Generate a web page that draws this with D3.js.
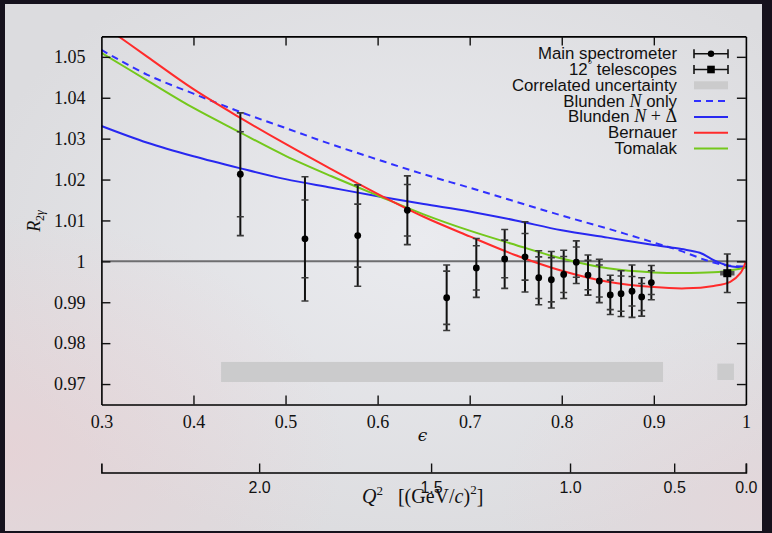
<!DOCTYPE html>
<html><head><meta charset="utf-8">
<script src="https://cdn.jsdelivr.net/npm/d3@7"></script>
<style>
html,body{margin:0;padding:0;background:#15121c;}
svg{display:block;}
</style></head><body>
<svg id="chart" width="772" height="533"></svg>
<script>
// ---- measured two-photon-exchange ratio, main spectrometer ----
const epsMain   = [0.4509, 0.5211, 0.5784, 0.6323, 0.6750, 0.7072, 0.7380, 0.7601, 0.7750, 0.7887,
                   0.8021, 0.8158, 0.8285, 0.8408, 0.8527, 0.8644, 0.8763, 0.8868, 0.8973];
const ratioMain = [1.0213, 1.0055, 1.0063, 1.0125, 0.9911, 0.9984, 1.0006, 1.0011, 0.9960, 0.9955,
                   0.9968, 0.9998, 0.99665, 0.9952, 0.9918, 0.9921, 0.9927, 0.9913, 0.9948];
const statErrMain = [0.0104, 0.0095, 0.0077, 0.0063, 0.0065, 0.0054, 0.0046, 0.0057, 0.0051, 0.0054,
                     0.0044, 0.0037, 0.0036, 0.0039, 0.0036, 0.0043, 0.0036, 0.0033, 0.0029];
const totErrMain  = [0.0150, 0.0152, 0.0124, 0.0084, 0.0080, 0.0072, 0.0072, 0.0086, 0.0066, 0.0069,
                     0.0059, 0.0052, 0.0049, 0.0053, 0.0048, 0.0056, 0.0064, 0.0047, 0.0042];

// ---- 12 degree telescopes ----
const epsTele    = [0.9798];
const ratioTele  = [0.9971];
const totErrTele = [0.0047];
const epsErrTele = [0.0078];

// ---- correlated systematic uncertainty bands ----
const corrEpsLo = [0.430, 0.969];
const corrEpsHi = [0.910, 0.987];
const corrLo    = [0.9705, 0.9710];
const corrHi    = [0.9754, 0.9750];

// ---- theory curves ----
const bernauerEps = [0.30, 0.35, 0.40, 0.45, 0.50, 0.55, 0.60, 0.65, 0.70, 0.75, 0.80, 0.85, 0.90, 0.935, 0.965, 0.983, 0.994, 1.00];
const bernauerR   = [1.0580, 1.0500, 1.0421, 1.0352, 1.0287, 1.0225, 1.0165, 1.0109, 1.0061, 1.0015, 0.9977, 0.9950, 0.9937, 0.9934, 0.9940, 0.9950, 0.9971, 1.0000];

const tomalakEps = [0.30, 0.35, 0.40, 0.45, 0.50, 0.55, 0.60, 0.65, 0.70, 0.75, 0.80, 0.85, 0.90, 0.95, 0.975, 1.00];
const tomalakR   = [1.0510, 1.0442, 1.0375, 1.0316, 1.0258, 1.0208, 1.0161, 1.0115, 1.0075, 1.0040, 1.0007, 0.9983, 0.9973, 0.9972, 0.9975, 0.9985];

const blundenNDEps = [0.30, 0.35, 0.40, 0.45, 0.50, 0.55, 0.60, 0.65, 0.70, 0.75, 0.80, 0.85, 0.90, 0.93, 0.95, 0.965, 0.98, 0.99, 1.00];
const blundenNDR   = [1.0331, 1.0290, 1.0257, 1.0228, 1.0201, 1.0180, 1.0159, 1.0140, 1.0122, 1.0100, 1.0076, 1.0058, 1.0040, 1.0030, 1.0021, 1.0003, 0.9990, 0.9986, 0.9987];

const blundenNEps = [0.30, 0.35, 0.40, 0.45, 0.50, 0.55, 0.60, 0.65, 0.70, 0.75, 0.80, 0.85, 0.90, 0.93, 0.955, 0.97, 0.98, 1.00];
const blundenNR   = [1.0517, 1.0456, 1.0410, 1.0366, 1.0326, 1.0286, 1.0249, 1.0213, 1.0180, 1.0146, 1.0112, 1.0080, 1.0046, 1.0025, 1.0004, 0.9994, 0.9990, 0.9987];

// ---- axes ----
const epsTicks   = [0.3, 0.4, 0.5, 0.6, 0.7, 0.8, 0.9, 1.0];
const ratioTicks = [0.97, 0.98, 0.99, 1.00, 1.01, 1.02, 1.03, 1.04, 1.05];
const q2Ticks    = [0.0, 0.5, 1.0, 1.5, 2.0];
const beamEnergy = 2.01;     // GeV
const protonMass = 0.938272; // GeV

const seriesColors = {blundenN: "#3030ff", blundenND: "#2828f0", bernauer: "#ff2b2b", tomalak: "#74c81c"};

// ---------------------------------------------------------------
const svg = d3.select("#chart");
const W = 772, H = 533;
const L = 101.4, R = 745.9, T = 36.4, B = 404.5;

const defs = svg.append("defs");
const pink = defs.append("radialGradient").attr("id", "pinkGlow").attr("cx", "0%").attr("cy", "85%").attr("r", "45%");
pink.append("stop").attr("offset", "0%").attr("stop-color", "#f0c8cc").attr("stop-opacity", 0.45);
pink.append("stop").attr("offset", "100%").attr("stop-color", "#f0c8cc").attr("stop-opacity", 0);
const pink2 = defs.append("radialGradient").attr("id", "pinkGlow2").attr("cx", "100%").attr("cy", "95%").attr("r", "35%");
pink2.append("stop").attr("offset", "0%").attr("stop-color", "#efcdd2").attr("stop-opacity", 0.35);
pink2.append("stop").attr("offset", "100%").attr("stop-color", "#efcdd2").attr("stop-opacity", 0);
const haze = defs.append("radialGradient").attr("id", "haze").attr("cx", "55%").attr("cy", "45%").attr("r", "60%");
haze.append("stop").attr("offset", "0%").attr("stop-color", "#eaebef");
haze.append("stop").attr("offset", "100%").attr("stop-color", "#dcdcdf");
defs.append("clipPath").attr("id", "plotClip").append("rect")
  .attr("x", L).attr("y", T).attr("width", R - L).attr("height", B - T);

// dark surround and light panel
svg.append("rect").attr("width", W).attr("height", H).attr("fill", "#16121d");
["url(#haze)", "url(#pinkGlow)", "url(#pinkGlow2)"].forEach(f =>
  svg.append("rect").attr("x", 5).attr("y", 4).attr("width", 757).attr("height", 527).attr("fill", f));

const x = d3.scaleLinear().domain([0.3, 1.0]).range([L, R]);
const y = d3.scaleLinear().domain([0.965, 1.055]).range([B, T]);

// epsilon for a given Q^2 at fixed beam energy (elastic e-p kinematics)
function epsFromQ2(q2) {
  if (q2 <= 0) return 1;
  const s = q2 / (4 * beamEnergy * beamEnergy - 2 * beamEnergy * q2 / protonMass);
  const tau = q2 / (4 * protonMass * protonMass);
  const tan2 = s / (1 - s);
  return 1 / (1 + 2 * (1 + tau) * tan2);
}
// Q^2 at the left edge of the plot (epsilon = 0.3)
let qa = 0, qb = 3.5;
for (let i = 0; i < 60; i++) { const m = (qa + qb) / 2; if (epsFromQ2(m) > 0.3) qa = m; else qb = m; }
const q2Max = (qa + qb) / 2;
const q2Nodes = d3.range(0, q2Max, 0.02).concat([q2Max]);
const q2Scale = d3.scaleLinear().domain(q2Nodes).range(q2Nodes.map(q => x(epsFromQ2(q))));

const serif = "'Liberation Serif','DejaVu Serif',serif";
const sans = "'Liberation Sans','DejaVu Sans',sans-serif";

// correlated uncertainty bands
const plot = svg.append("g").attr("clip-path", "url(#plotClip)");
plot.selectAll("rect.corr").data(corrEpsLo.map((e, i) => i)).join("rect")
  .attr("class", "corr")
  .attr("x", i => x(corrEpsLo[i])).attr("width", i => x(corrEpsHi[i]) - x(corrEpsLo[i]))
  .attr("y", i => y(corrHi[i])).attr("height", i => y(corrLo[i]) - y(corrHi[i]))
  .attr("fill", "#cbcbcc");

// unity line
plot.append("line").attr("x1", L).attr("x2", R).attr("y1", y(1)).attr("y2", y(1))
  .attr("stroke", "#6e6e70").attr("stroke-width", 2);

// theory curves
const line = d3.line().x(d => x(d[0])).y(d => y(d[1])).curve(d3.curveCatmullRom.alpha(0.5));
function drawCurve(eps, r, color, dash) {
  plot.append("path").datum(eps.map((e, i) => [e, r[i]]))
    .attr("d", line).attr("fill", "none").attr("stroke", color).attr("stroke-width", 2)
    .attr("stroke-dasharray", dash || null);
}
drawCurve(blundenNEps, blundenNR, seriesColors.blundenN, "7,5");
drawCurve(blundenNDEps, blundenNDR, seriesColors.blundenND);
drawCurve(tomalakEps, tomalakR, seriesColors.tomalak);
drawCurve(bernauerEps, bernauerR, seriesColors.bernauer);

// main spectrometer points with statistical and total error bars
const capW = 3.5;
const pts = plot.selectAll("g.pt").data(epsMain.map((e, i) => i)).join("g").attr("class", "pt");
pts.append("line")
  .attr("x1", i => x(epsMain[i])).attr("x2", i => x(epsMain[i]))
  .attr("y1", i => y(ratioMain[i] - totErrMain[i])).attr("y2", i => y(ratioMain[i] + totErrMain[i]))
  .attr("stroke", "#111").attr("stroke-width", 2);
[[totErrMain, -1], [totErrMain, 1], [statErrMain, -1], [statErrMain, 1]].forEach(([err, sgn]) => {
  pts.append("line")
    .attr("x1", i => x(epsMain[i]) - capW).attr("x2", i => x(epsMain[i]) + capW)
    .attr("y1", i => y(ratioMain[i] + sgn * err[i])).attr("y2", i => y(ratioMain[i] + sgn * err[i]))
    .attr("stroke", "#3a3a3a").attr("stroke-width", 1.6);
});
pts.append("circle").attr("cx", i => x(epsMain[i])).attr("cy", i => y(ratioMain[i])).attr("r", 3.4).attr("fill", "#000");

// telescope point
const tel = plot.selectAll("g.tel").data(epsTele.map((e, i) => i)).join("g").attr("class", "tel");
tel.append("line")
  .attr("x1", i => x(epsTele[i] - epsErrTele[i])).attr("x2", i => x(epsTele[i] + epsErrTele[i]))
  .attr("y1", i => y(ratioTele[i])).attr("y2", i => y(ratioTele[i]))
  .attr("stroke", "#555").attr("stroke-width", 4.5);
tel.append("line")
  .attr("x1", i => x(epsTele[i])).attr("x2", i => x(epsTele[i]))
  .attr("y1", i => y(ratioTele[i] - totErrTele[i])).attr("y2", i => y(ratioTele[i] + totErrTele[i]))
  .attr("stroke", "#111").attr("stroke-width", 2);
[-1, 1].forEach(sgn => {
  tel.append("line")
    .attr("x1", i => x(epsTele[i]) - capW).attr("x2", i => x(epsTele[i]) + capW)
    .attr("y1", i => y(ratioTele[i] + sgn * totErrTele[i])).attr("y2", i => y(ratioTele[i] + sgn * totErrTele[i]))
    .attr("stroke", "#3a3a3a").attr("stroke-width", 1.6);
});
tel.append("rect").attr("x", i => x(epsTele[i]) - 4).attr("y", i => y(ratioTele[i]) - 4)
  .attr("width", 8).attr("height", 8).attr("fill", "#000");

// frame axes with inward ticks
const tk = 9;
const fmtEps = d => d === 1 ? "1" : d3.format(".1f")(d);
const fmtR = d => Math.abs(d - 1) < 1e-9 ? "1" : d3.format(".2f")(d);
function styleAxis(g, font, size) {
  g.selectAll("path.domain").attr("stroke", "#000").attr("stroke-width", 1.6);
  g.selectAll(".tick line").attr("stroke", "#111").attr("stroke-width", 1.4);
  g.selectAll(".tick text").attr("font-family", font).attr("font-size", size).attr("fill", "#111");
}
const gx = svg.append("g").attr("transform", `translate(0,${B})`)
  .call(d3.axisBottom(x).tickValues(epsTicks).tickFormat(fmtEps).tickSizeInner(-tk).tickSizeOuter(0).tickPadding(11));
styleAxis(gx, serif, 18);
const gxt = svg.append("g").attr("transform", `translate(0,${T})`)
  .call(d3.axisTop(x).tickValues(epsTicks).tickSizeInner(-tk).tickSizeOuter(0));
styleAxis(gxt, serif, 18);
const gy = svg.append("g").attr("transform", `translate(${L},0)`)
  .call(d3.axisLeft(y).tickValues(ratioTicks).tickFormat(fmtR).tickSizeInner(-tk).tickSizeOuter(0).tickPadding(16));
styleAxis(gy, serif, 18);
const gyr = svg.append("g").attr("transform", `translate(${R},0)`)
  .call(d3.axisRight(y).tickValues(ratioTicks).tickSizeInner(-tk).tickSizeOuter(0));
styleAxis(gyr, serif, 18);
// mirrored frame sides carry ticks only
[gxt, gyr].forEach(g => g.selectAll(".tick text").remove());
// remove edge ticks that coincide with the frame corners
[gx, gxt].forEach(g => g.selectAll(".tick").filter(d => d === 0.3 || d === 1.0).select("line").remove());

// Q^2 axis
const qy = 472.5;
const gq = svg.append("g").attr("transform", `translate(0,${qy})`)
  .call(d3.axisBottom(q2Scale).tickValues(q2Ticks).tickFormat(d3.format(".1f"))
    .tickSizeInner(-tk).tickSizeOuter(-tk).tickPadding(9));
styleAxis(gq, sans, 16);

// axis titles
svg.append("text").attr("x", 422.5).attr("y", 441).attr("text-anchor", "middle")
  .attr("font-family", "'DejaVu Serif',serif").attr("font-style", "italic").attr("font-size", 17)
  .attr("fill", "#111").text("\u03F5");

const qt = svg.append("text").attr("x", 362).attr("y", 503)
  .attr("font-family", serif).attr("font-size", 20).attr("fill", "#111");
qt.append("tspan").attr("font-style", "italic").text("Q");
qt.append("tspan").attr("font-size", 13).attr("dy", -8).text("2");
qt.append("tspan").attr("dy", 8).attr("dx", 15).text("[(GeV/");
qt.append("tspan").attr("font-style", "italic").text("c");
qt.append("tspan").text(")");
qt.append("tspan").attr("font-size", 13).attr("dy", -9).text("2");
qt.append("tspan").attr("dy", 9).text("]");

const yl = svg.append("text").attr("transform", "translate(40,221) rotate(-90)").attr("text-anchor", "middle")
  .attr("font-family", serif).attr("font-size", 18).attr("fill", "#111");
yl.append("tspan").attr("font-style", "italic").text("R");
yl.append("tspan").attr("font-size", 12).attr("dy", 4).text("2");
yl.append("tspan").attr("font-size", 12).attr("font-style", "italic").text("\u03B3");

// legend
const legX = 677, s0 = 694, s1 = 728, legY0 = 53.7, legDy = 15.8;
const leg = svg.append("g");
const rowY = k => legY0 + k * legDy;
function legText(k) {
  return leg.append("text").attr("x", legX).attr("y", rowY(k) + 5.5).attr("text-anchor", "end")
    .attr("font-family", sans).attr("font-size", 16.8).attr("fill", "#111");
}
legText(0).text("Main spectrometer");
const t1 = legText(1);
t1.append("tspan").text("12");
t1.append("tspan").attr("font-family", serif).attr("font-size", 11).attr("dy", -7).text("\u00B0");
t1.append("tspan").attr("dy", 7).text(" telescopes");
legText(2).text("Correlated uncertainty");
const t3 = legText(3);
t3.append("tspan").text("Blunden ");
t3.append("tspan").attr("font-family", serif).attr("font-style", "italic").attr("font-size", 18).text("N");
t3.append("tspan").text(" only");
const t4 = legText(4);
t4.append("tspan").text("Blunden ");
t4.append("tspan").attr("font-family", serif).attr("font-style", "italic").attr("font-size", 18).text("N");
t4.append("tspan").attr("font-family", serif).attr("font-size", 18).text(" + \u0394");
legText(5).text("Bernauer");
legText(6).text("Tomalak");

[0, 1].forEach(k => {
  const yy = rowY(k);
  leg.append("line").attr("x1", s0).attr("x2", s1).attr("y1", yy).attr("y2", yy).attr("stroke", "#111").attr("stroke-width", 1.6);
  [s0, s1].forEach(xx => leg.append("line").attr("x1", xx).attr("x2", xx).attr("y1", yy - 4.5).attr("y2", yy + 4.5)
    .attr("stroke", "#111").attr("stroke-width", 1.6));
  if (k === 0) leg.append("circle").attr("cx", (s0 + s1) / 2).attr("cy", yy).attr("r", 3.2).attr("fill", "#000");
  else leg.append("rect").attr("x", (s0 + s1) / 2 - 3.8).attr("y", yy - 3.8).attr("width", 7.6).attr("height", 7.6).attr("fill", "#000");
});
leg.append("rect").attr("x", s0).attr("y", rowY(2) - 4).attr("width", s1 - s0).attr("height", 8).attr("fill", "#cbcbcc");
[[3, seriesColors.blundenN, "7,5"], [4, seriesColors.blundenND, null], [5, seriesColors.bernauer, null], [6, seriesColors.tomalak, null]]
  .forEach(([k, c, d]) => leg.append("line").attr("x1", s0).attr("x2", s1).attr("y1", rowY(k)).attr("y2", rowY(k))
    .attr("stroke", c).attr("stroke-width", 2).attr("stroke-dasharray", d));
</script>
</body></html>
